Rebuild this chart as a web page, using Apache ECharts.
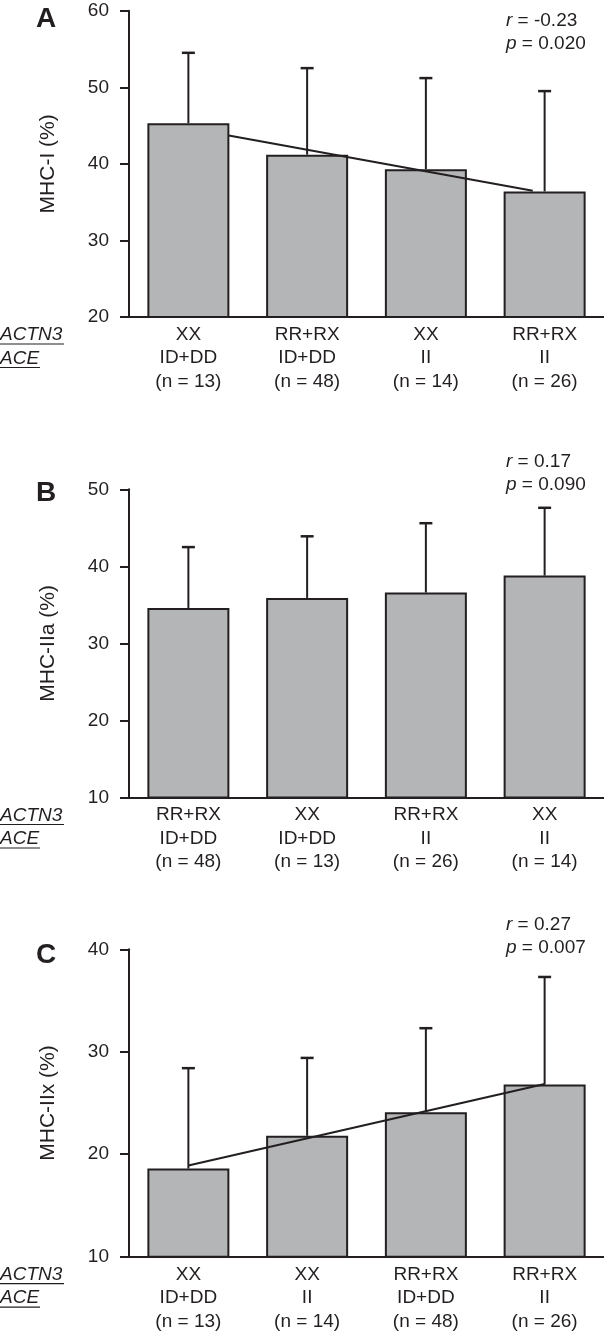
<!DOCTYPE html>
<html><head><meta charset="utf-8">
<script src="https://cdn.jsdelivr.net/npm/echarts@6/dist/echarts.min.js"></script>
<style>html,body{margin:0;padding:0;background:#fff}#c{width:604px;height:1333px}</style>
</head><body><div id="c"></div>
<script>
// ---- Panel A : MHC-I ----
const actn3A = ['XX', 'RR+RX', 'XX', 'RR+RX'];
const aceA   = ['ID+DD', 'ID+DD', 'II', 'II'];
const nA     = [13, 48, 14, 26];
const meanA  = [45.3, 41.2, 39.3, 36.4];
const sdA    = [9.2, 11.3, 11.9, 13.1];
const trendA = [[0.34, 43.7], [2.9, 36.5]];
const statA  = ['-0.23', '0.020'];
const yTicksA = [20, 30, 40, 50, 60];

// ---- Panel B : MHC-IIa ----
const actn3B = ['RR+RX', 'XX', 'RR+RX', 'XX'];
const aceB   = ['ID+DD', 'ID+DD', 'II', 'II'];
const nB     = [48, 13, 26, 14];
const meanB  = [34.6, 35.9, 36.6, 38.8];
const sdB    = [7.9, 8.0, 9.0, 8.8];
const statB  = ['0.17', '0.090'];
const yTicksB = [10, 20, 30, 40, 50];

// ---- Panel C : MHC-IIx ----
const actn3C = ['XX', 'XX', 'RR+RX', 'RR+RX'];
const aceC   = ['ID+DD', 'II', 'ID+DD', 'II'];
const nC     = [13, 14, 48, 26];
const meanC  = [18.6, 21.8, 24.1, 26.8];
const sdC    = [9.8, 7.6, 8.2, 10.5];
const trendC = [[0, 18.9], [3, 26.85]];
const statC  = ['0.27', '0.007'];
const yTicksC = [10, 20, 30, 40];

const INK = '#231f20';
const FONT = '"Liberation Sans", Arial, Helvetica, sans-serif';

const panels = [
  {letter: 'A', name: 'MHC-I (%)',   actn3: actn3A, ace: aceA, n: nA, mean: meanA, sd: sdA, trend: trendA, stat: statA, ticks: yTicksA,
   top: 10.7, height: 306.3, letterY: 19, statY: 20.7},
  {letter: 'B', name: 'MHC-IIa (%)', actn3: actn3B, ace: aceB, n: nB, mean: meanB, sd: sdB, trend: null,   stat: statB, ticks: yTicksB,
   top: 489.3, height: 308.2, letterY: 493, statY: 462},
  {letter: 'C', name: 'MHC-IIx (%)', actn3: actn3C, ace: aceC, n: nC, mean: meanC, sd: sdC, trend: trendC, stat: statC, ticks: yTicksC,
   top: 949.3, height: 307.4, letterY: 955, statY: 925}
];

const grid = [], xAxis = [], yAxis = [], series = [], graphic = [];
panels.forEach((p, i) => {
  grid.push({left: 129, width: 475, top: p.top, height: p.height, containLabel: false, outerBoundsMode: 'none'});
  const cats = p.actn3.map((a, k) => a + '\n' + p.ace[k] + '\n(n = ' + p.n[k] + ')');
  xAxis.push({
    type: 'category', gridIndex: i, data: cats, boundaryGap: true,
    axisLine: {onZero: false, lineStyle: {color: INK, width: 2}},
    axisTick: {show: false},
    axisLabel: {color: INK, fontFamily: FONT, fontSize: 19, lineHeight: 23.5, margin: 6, interval: 0}
  });
  xAxis.push({type: 'value', gridIndex: i, min: -0.5, max: 3.5, show: false});
  const mn = p.ticks[0], mx = p.ticks[p.ticks.length - 1];
  yAxis.push({
    type: 'value', gridIndex: i, min: mn, max: mx, interval: p.ticks[1] - p.ticks[0],
    splitLine: {show: false},
    axisLine: {show: true, onZero: false, lineStyle: {color: INK, width: 2}},
    axisTick: {show: true, length: 9, lineStyle: {color: INK, width: 2}},
    axisLabel: {color: INK, fontFamily: FONT, fontSize: 19, margin: 20},
    name: p.name, nameLocation: 'middle', nameGap: 70,
    nameTextStyle: {color: INK, fontFamily: FONT, fontSize: 21}
  });
  const errData = p.mean.map((m, k) => [k, m, m + p.sd[k]]);
  series.push({
    type: 'custom', xAxisIndex: 2 * i, yAxisIndex: i, z: 1,
    data: errData,
    renderItem: function (params, api) {
      const base = api.coord([api.value(0), api.value(1)]);
      const top = api.coord([api.value(0), api.value(2)]);
      const cap = 6.5;
      return {
        type: 'group',
        children: [
          {type: 'line', shape: {x1: base[0], y1: base[1], x2: top[0], y2: top[1]}, style: {stroke: INK, lineWidth: 2}},
          {type: 'line', shape: {x1: top[0] - cap, y1: top[1], x2: top[0] + cap, y2: top[1]}, style: {stroke: INK, lineWidth: 2.5}}
        ]
      };
    }
  });
  series.push({
    type: 'bar', xAxisIndex: 2 * i, yAxisIndex: i, z: 2,
    data: p.mean, barWidth: 82,
    itemStyle: {color: '#b4b5b7', borderColor: INK, borderWidth: 2},
    silent: true
  });
  if (p.trend) {
    series.push({
      type: 'line', xAxisIndex: 2 * i + 1, yAxisIndex: i, z: 3,
      data: p.trend, symbol: 'none',
      lineStyle: {color: INK, width: 2}
    });
  }
  graphic.push({type: 'text', left: 36, top: p.letterY - 14,
    style: {text: p.letter, font: 'bold 28px ' + FONT, fill: INK}});
  graphic.push({type: 'text', x: 506, y: p.statY,
    style: {text: '{i|r} = ' + p.stat[0], font: '19px ' + FONT, fill: INK, textVerticalAlign: 'middle',
      rich: {i: {fontStyle: 'italic', fontSize: 19, fontFamily: FONT, fill: INK}}}});
  graphic.push({type: 'text', x: 506, y: p.statY + 23,
    style: {text: '{i|p} = ' + p.stat[1], font: '19px ' + FONT, fill: INK, textVerticalAlign: 'middle',
      rich: {i: {fontStyle: 'italic', fontSize: 19, fontFamily: FONT, fill: INK}}}});
  const axisY = p.top + p.height;
  const rows = [['ACTN3', 64], ['ACE', 40]];
  rows.forEach((r, k) => {
    const cy = axisY + 18 + 23.5 * k;
    graphic.push({type: 'text', x: 0, y: cy,
      style: {text: r[0], font: 'italic 19px ' + FONT, fill: INK, textVerticalAlign: 'middle'}});
    graphic.push({type: 'line', shape: {x1: 0, y1: cy + 9, x2: r[1], y2: cy + 9},
      style: {stroke: INK, lineWidth: 1.2}});
  });
});

const chart = echarts.init(document.getElementById('c'), null, {renderer: 'canvas'});
chart.setOption({
  animation: false,
  backgroundColor: '#fff',
  grid, xAxis, yAxis, series, graphic
});
</script>
</body></html>
